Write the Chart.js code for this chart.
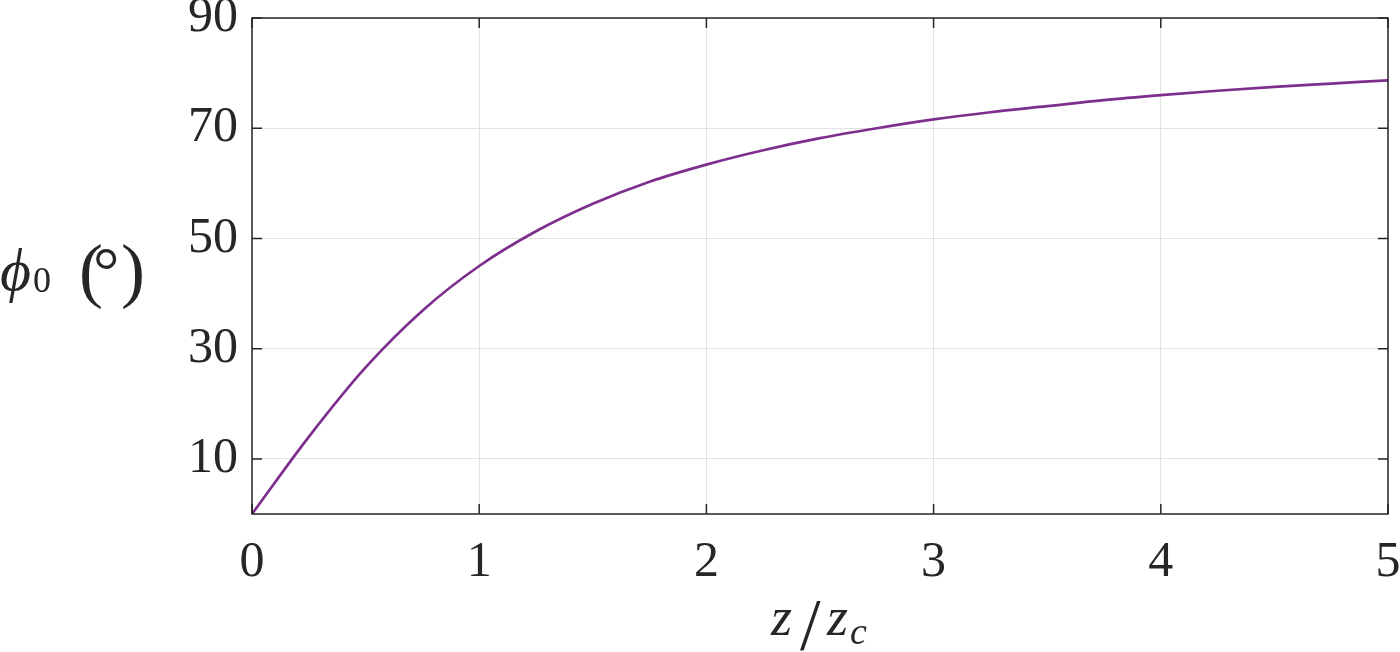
<!DOCTYPE html>
<html>
<head>
<meta charset="utf-8">
<script src="https://cdn.jsdelivr.net/npm/chart.js@4"></script>
</head>
<body style="margin:0;background:#fff">
<canvas id="c" width="1400" height="652"></canvas>
<script>
// z / z_c values
const zValues = [0, 0.25, 0.5, 0.75, 1, 1.25, 1.5, 1.75, 2, 2.25, 2.5, 2.75, 3, 3.25, 3.5, 3.75, 4, 4.25, 4.5, 4.75, 5];
// phi_0 in degrees
const phiValues = [0, 14.0, 26.6, 36.9, 45.0, 51.3, 56.3, 60.3, 63.4, 66.0, 68.2, 70.0, 71.6, 72.9, 74.0, 75.1, 76.0, 76.8, 77.5, 78.1, 78.7];
const xTicks = [0, 1, 2, 3, 4, 5];
const yTicks = [10, 30, 50, 70, 90];

const AXIS = '#262626';
const SERIF = '"Liberation Serif"';

function txt(ctx, s, font, x, y) {
  ctx.font = font + ' ' + SERIF;
  ctx.fillText(s, x, y);
}

const boxAndTicks = {
  id: 'boxAndTicks',
  afterDatasetsDraw(chart) {
    const {ctx, chartArea: a, scales} = chart;
    ctx.save();
    ctx.strokeStyle = AXIS;
    ctx.lineWidth = 1.5;
    ctx.beginPath();
    ctx.rect(a.left, a.top, a.right - a.left, a.bottom - a.top);
    ctx.stroke();
    const tl = 10;
    ctx.beginPath();
    xTicks.forEach(v => {
      const px = scales.x.getPixelForValue(v);
      ctx.moveTo(px, a.bottom); ctx.lineTo(px, a.bottom - tl);
      ctx.moveTo(px, a.top); ctx.lineTo(px, a.top + tl);
    });
    yTicks.forEach(v => {
      const py = scales.y.getPixelForValue(v);
      ctx.moveTo(a.left, py); ctx.lineTo(a.left + tl, py);
      ctx.moveTo(a.right, py); ctx.lineTo(a.right - tl, py);
    });
    ctx.stroke();
    ctx.restore();
  },
  afterDraw(chart) {
    const ctx = chart.ctx;
    const a = chart.chartArea;
    ctx.save();
    ctx.fillStyle = AXIS;
    ctx.textBaseline = 'alphabetic';
    ctx.textAlign = 'left';
    // Y title: phi_0 (deg)
    txt(ctx, '\u03D5', 'italic 60px', 0, 290);
    txt(ctx, '0', '36px', 33, 292);
    txt(ctx, '(', '72px', 79, 294);
    txt(ctx, '\u00B0', '66px', 93, 293);
    txt(ctx, ')', '72px', 121, 294);
    // X title: z / z_c
    const cx = (a.left + a.right) / 2;
    txt(ctx, 'z', 'italic 54px', cx - 49, 635);
    txt(ctx, '/', '74px', cx - 20, 650);
    txt(ctx, 'z', 'italic 54px', cx + 7, 635);
    txt(ctx, 'c', 'italic 38px', cx + 30, 644);
    ctx.restore();
  }
};

new Chart(document.getElementById('c'), {
  type: 'line',
  data: {
    datasets: [{
      data: zValues.map((z, i) => ({x: z, y: phiValues[i]})),
      borderColor: '#7E2F8E',
      borderWidth: 2.7,
      pointRadius: 0,
      fill: false,
      cubicInterpolationMode: 'monotone'
    }]
  },
  options: {
    responsive: false,
    devicePixelRatio: 1,
    animation: false,
    layout: {padding: {top: 18, right: 12, left: 0, bottom: 0}},
    plugins: {legend: {display: false}, tooltip: {enabled: false}},
    scales: {
      x: {
        type: 'linear', min: 0, max: 5,
        afterBuildTicks: s => { s.ticks = xTicks.map(v => ({value: v})); },
        afterFit: s => { s.height = 138; s.paddingLeft = 0; s.paddingRight = 0; },
        grid: {color: '#e2e2e2', lineWidth: 1, drawTicks: false},
        border: {display: false},
        ticks: {padding: 19, color: AXIS, font: {family: SERIF, size: 50}, maxRotation: 0}
      },
      y: {
        type: 'linear', min: 0, max: 90,
        afterBuildTicks: s => { s.ticks = yTicks.map(v => ({value: v})); },
        afterFit: s => { s.width = 252; s.paddingTop = 0; s.paddingBottom = 0; },
        grid: {color: '#e2e2e2', lineWidth: 1, drawTicks: false},
        border: {display: false},
        ticks: {padding: 14, color: AXIS, font: {family: SERIF, size: 50}}
      }
    }
  },
  plugins: [boxAndTicks]
});
</script>
</body>
</html>
